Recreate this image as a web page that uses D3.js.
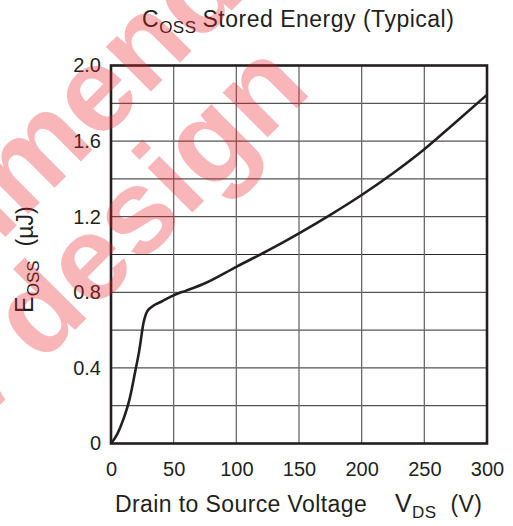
<!DOCTYPE html>
<html>
<head>
<meta charset="utf-8">
<script src="https://cdn.jsdelivr.net/npm/d3@7"></script>
<style>
    body { margin: 0; background: #fff; }
    svg { display: block; }
    text { font-family: "Liberation Sans", Arial, sans-serif; fill: #231f20; }
</style>
</head>
<body>
<svg id="chart" width="513" height="526"></svg>
<script>
// hodnoty
const vds = [0, 5, 10, 15, 19, 22.5, 26, 29, 34, 40, 45, 51, 60, 75, 100, 125, 150, 175, 200, 225, 250, 275, 300];
const eoss = [0, 0.05, 0.13, 0.24, 0.37, 0.49, 0.64, 0.70, 0.73, 0.75, 0.768, 0.787, 0.809, 0.848, 0.935, 1.02, 1.112, 1.21, 1.315, 1.43, 1.557, 1.70, 1.845];
const xTicks = [0, 50, 100, 150, 200, 250, 300];
const yTicks = [0, 0.4, 0.8, 1.2, 1.6, 2.0];
const yGrid = [0.2, 0.4, 0.6, 0.8, 1.0, 1.2, 1.4, 1.6, 1.8];
const xGrid = [50, 100, 150, 200, 250];
const watermark = ["Not recommended", "for new design"];

const ink = "#231f20";
const svg = d3.select("#chart");

const x = d3.scaleLinear().domain([0, 300]).range([111, 487]);
const y = d3.scaleLinear().domain([0, 2]).range([443.5, 65.5]);

// mrizka
svg.append("g").selectAll("line").data(yGrid).join("line")
    .attr("x1", x(0)).attr("x2", x(300))
    .attr("y1", d => y(d)).attr("y2", d => y(d))
    .attr("stroke", "#2a2a2a").attr("stroke-width", 1);
svg.append("g").selectAll("line").data(xGrid).join("line")
    .attr("y1", y(0)).attr("y2", y(2))
    .attr("x1", d => x(d)).attr("x2", d => x(d))
    .attr("stroke", "#6a6a6a").attr("stroke-width", 1.3);

// krivka
const line = d3.line()
    .x(d => x(d[0]))
    .y(d => y(d[1]))
    .curve(d3.curveMonotoneX);
svg.append("path")
    .datum(vds.map((v, i) => [v, eoss[i]]))
    .attr("d", line)
    .attr("fill", "none")
    .attr("stroke", ink)
    .attr("stroke-width", 2.6);

// ramecek
svg.append("rect")
    .attr("x", x(0)).attr("y", y(2))
    .attr("width", x(300) - x(0)).attr("height", y(0) - y(2))
    .attr("fill", "none").attr("stroke", ink).attr("stroke-width", 2.6);

// osy
const xAxis = d3.axisBottom(x).tickValues(xTicks).tickSize(0).tickPadding(18);
const yAxis = d3.axisLeft(y).tickValues(yTicks).tickSize(0).tickPadding(10)
    .tickFormat(d => d === 0 ? "0" : d3.format(".1f")(d));
svg.append("g").attr("transform", `translate(0,${y(0)})`).call(xAxis)
    .call(g => g.select(".domain").remove());
svg.append("g").attr("transform", `translate(${x(0)},0)`).call(yAxis)
    .call(g => g.select(".domain").remove());
svg.selectAll(".tick text")
    .attr("font-family", "Liberation Sans, Arial, sans-serif")
    .attr("font-size", 20).attr("fill", ink);

// nadpis
const title = svg.append("text").attr("x", 142).attr("y", 27).attr("font-size", 23)
    .attr("letter-spacing", 0.5);
title.append("tspan").text("C");
title.append("tspan").attr("font-size", 17).attr("dy", 6).text("OSS");
title.append("tspan").attr("dy", -6).attr("dx", 6).text("Stored Energy (Typical)");

// popisek osy x
const xl = svg.append("text").attr("y", 512).attr("font-size", 23).attr("letter-spacing", 0.4);
xl.append("tspan").attr("x", 115).text("Drain to Source Voltage");
xl.append("tspan").attr("x", 395).attr("font-size", 25).text("V");
xl.append("tspan").attr("font-size", 17).attr("dy", 6).text("DS");
xl.append("tspan").attr("dy", -6).attr("dx", 14).text("(V)");

// popisek osy y
const yl = svg.append("text").attr("transform", "translate(33,313) rotate(-90)").attr("font-size", 23);
yl.append("tspan").attr("font-size", 25).text("E");
yl.append("tspan").attr("font-size", 17).attr("dy", 6).text("OSS");
yl.append("tspan").attr("dy", -6).attr("dx", 14).text("(\u00b5J)");

// vodoznak
const wm = svg.append("g").attr("transform", "translate(45,360) rotate(-45)");
wm.selectAll("text").data(watermark).join("text")
    .attr("x", (d, i) => i === 0 ? 543 : 380)
    .attr("y", (d, i) => i === 0 ? -115 : 0)
    .attr("text-anchor", "end")
    .attr("font-size", 120)
    .attr("font-weight", "bold")
    .style("fill", "#ed1c24")
    .attr("fill-opacity", 0.32)
    .text(d => d);
</script>
</body>
</html>
